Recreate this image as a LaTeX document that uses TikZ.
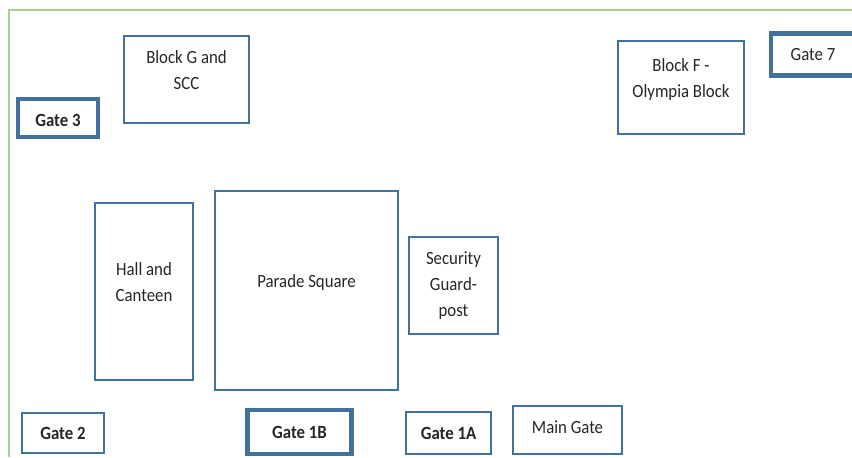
\documentclass[tikz,border=0pt]{standalone}
\usepackage{fontspec}
\setmainfont[FakeStretch=0.9]{Carlito}
\definecolor{framegreen}{HTML}{A9D18E}
\definecolor{boxblue}{HTML}{41719C}
\tikzset{
	room/.style={draw=boxblue,line width=1.5pt,rectangle,inner sep=0pt,align=center,text=black!85,font=\fontsize{14}{19.5}\selectfont},
	gate/.style={room,font=\fontsize{14}{14}\selectfont\bfseries},
	biggate/.style={gate,line width=3.5pt},
	lift/.style={text depth=#1},
	drop/.style={text height=#1}
}

\begin{document}
\begin{tikzpicture}[x=0.75pt,y=-0.75pt]
		\useasboundingbox (0,0) rectangle (852,457);
		\coordinate (FrameTR) at (852,10);
		\coordinate (FrameTL) at (9,10);
		\coordinate (FrameBL) at (9,457);
		\draw[framegreen,line width=1.5pt] (FrameTR) -- (FrameTL) -- (FrameBL);
		\node[room,minimum width=93.75pt,minimum height=65.25pt,lift=14pt] (BG) at (186.5,79.5) {Block G and\\SCC};
		\node[biggate,minimum width=60pt,minimum height=28.5pt,drop=13pt] (G3) at (58,118) {Gate 3};
		\node[room,minimum width=94.5pt,minimum height=69.75pt,lift=14pt] (BF) at (681,87.5) {Block F -\\Olympia Block};
		\node[room,line width=3.5pt,minimum width=63pt,minimum height=31.5pt] (G7) at (813,54.5) {Gate 7};
		\node[room,minimum width=73.5pt,minimum height=132.75pt,lift=14pt] (HC) at (144,291.5) {Hall and\\Canteen};
		\node[room,minimum width=137.25pt,minimum height=149.25pt,lift=14pt] (PS) at (306.5,290.5) {Parade Square};
		\node[room,minimum width=66.75pt,minimum height=72.75pt] (SG) at (453.5,285.5) {Security\\Guard-\\post};
		\node[gate,minimum width=61.5pt,minimum height=30pt] (G2) at (63,433) {Gate 2};
		\node[biggate,minimum width=78pt,minimum height=33pt] (G1B) at (299.5,432) {Gate 1B};
		\node[gate,minimum width=63.75pt,minimum height=31.5pt] (G1A) at (448.5,433) {Gate 1A};
		\node[room,minimum width=81.75pt,minimum height=36pt,lift=5pt] (MG) at (567.5,430) {Main Gate};
	\end{tikzpicture}
\end{document}
